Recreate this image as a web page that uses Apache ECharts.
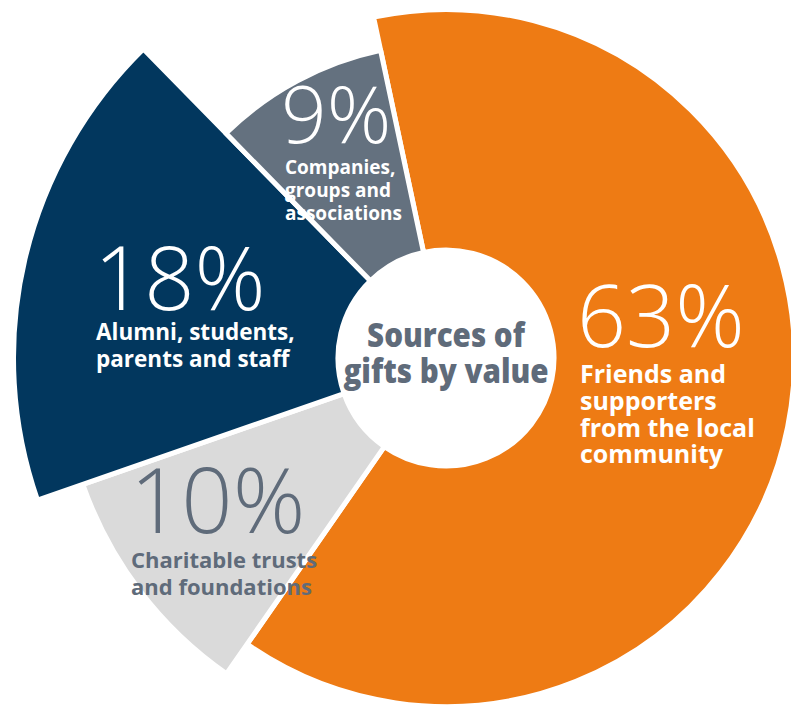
<!DOCTYPE html>
<html><head><meta charset="utf-8">
<script src="https://cdn.jsdelivr.net/npm/echarts@6/dist/echarts.min.js"></script>
<style>html,body{margin:0;padding:0;background:#fff}#c{width:791px;height:707px}</style>
</head><body><div id="c"></div>
<script>
// ---- data ----
const categories = [
  'Friends and supporters from the local community',
  'Charitable trusts and foundations',
  'Alumni, students, parents and staff',
  'Companies, groups and associations'
];
const values = [63, 10, 18, 9];
const labelLines = [
  ['Friends and', 'supporters', 'from the local', 'community'],
  ['Charitable trusts', 'and foundations'],
  ['Alumni, students,', 'parents and staff'],
  ['Companies,', 'groups and', 'associations']
];
const centerTitle = ['Sources of', 'gifts by value'];

// ---- styles / layout ----
const colors = ['#EE7B14', '#DADADA', '#02375E', '#64717F'];
const textColors = ['#FFFFFF', '#5F6B7A', '#FFFFFF', '#FFFFFF'];
const outerR = [346, 382, 430, 312];
const CX = 446, CY = 358, INNER = 108;
const layout = [
  {x: 577, base: 347, size: 86, tx: 580, tBase: 383, tSize: 25, lh: 26.7},
  {x: 130, base: 533, size: 90, tx: 131, tBase: 568, tSize: 22, lh: 27},
  {x: 94,  base: 310, size: 88, tx: 96,  tBase: 340, tSize: 22.5, lh: 27},
  {x: 281, base: 143, size: 80, tx: 285, tBase: 174, tSize: 19, lh: 23}
];
const OPEN = "'Open Sans', sans-serif";
const K_OPEN = 0.388;

function pctText(x, baseline, text, size, fill) {
  return {
    type: 'text', silent: true, z: 100,
    x: x, y: baseline - K_OPEN * size,
    style: {text: text, fill: fill, fontSize: size, fontWeight: 300,
            fontFamily: OPEN, align: 'left', verticalAlign: 'middle'}
  };
}
function blockText(x, firstBase, lines, size, lh, fill) {
  return {
    type: 'text', silent: true, z: 100,
    x: x, y: firstBase - K_OPEN * size - lh / 2,
    style: {text: lines.join('\n'), fill: fill, fontSize: size, fontWeight: 700,
            fontFamily: OPEN, lineHeight: lh, align: 'left', verticalAlign: 'top'}
  };
}

const series = values.map((_, i) => ({
  type: 'pie',
  center: [CX, CY],
  radius: [INNER, outerR[i] + 2.5],
  startAngle: 102,
  clockwise: true,
  silent: true,
  animation: false,
  label: {show: false},
  labelLine: {show: false},
  emphasis: {disabled: true},
  data: values.map((v, j) => ({
    name: categories[j],
    value: v,
    itemStyle: j === i
      ? {color: colors[i], borderColor: '#FFFFFF', borderWidth: 5}
      : {color: 'rgba(0,0,0,0)', borderWidth: 0}
  }))
}));

const graphics = [];
values.forEach((v, i) => {
  const L = layout[i];
  graphics.push(pctText(L.x, L.base, v + '%', L.size, textColors[i]));
  graphics.push(blockText(L.tx, L.tBase, labelLines[i], L.tSize, L.lh, textColors[i]));
});
centerTitle.forEach((t, n) => {
  graphics.push({
    type: 'text', silent: true, z: 100,
    x: CX, y: 347 + n * 36 - K_OPEN * 34,
    scaleX: 0.87,
    style: {text: t, fill: '#5F6B7A', fontSize: 34, fontWeight: 800,
            fontFamily: OPEN, align: 'center', verticalAlign: 'middle'}
  });
});

const chart = echarts.init(document.getElementById('c'), null, {renderer: 'svg', width: 791, height: 707});
chart.setOption({
  animation: false,
  backgroundColor: '#FFFFFF',
  series: series,
  graphic: graphics
});
</script>
</body></html>
